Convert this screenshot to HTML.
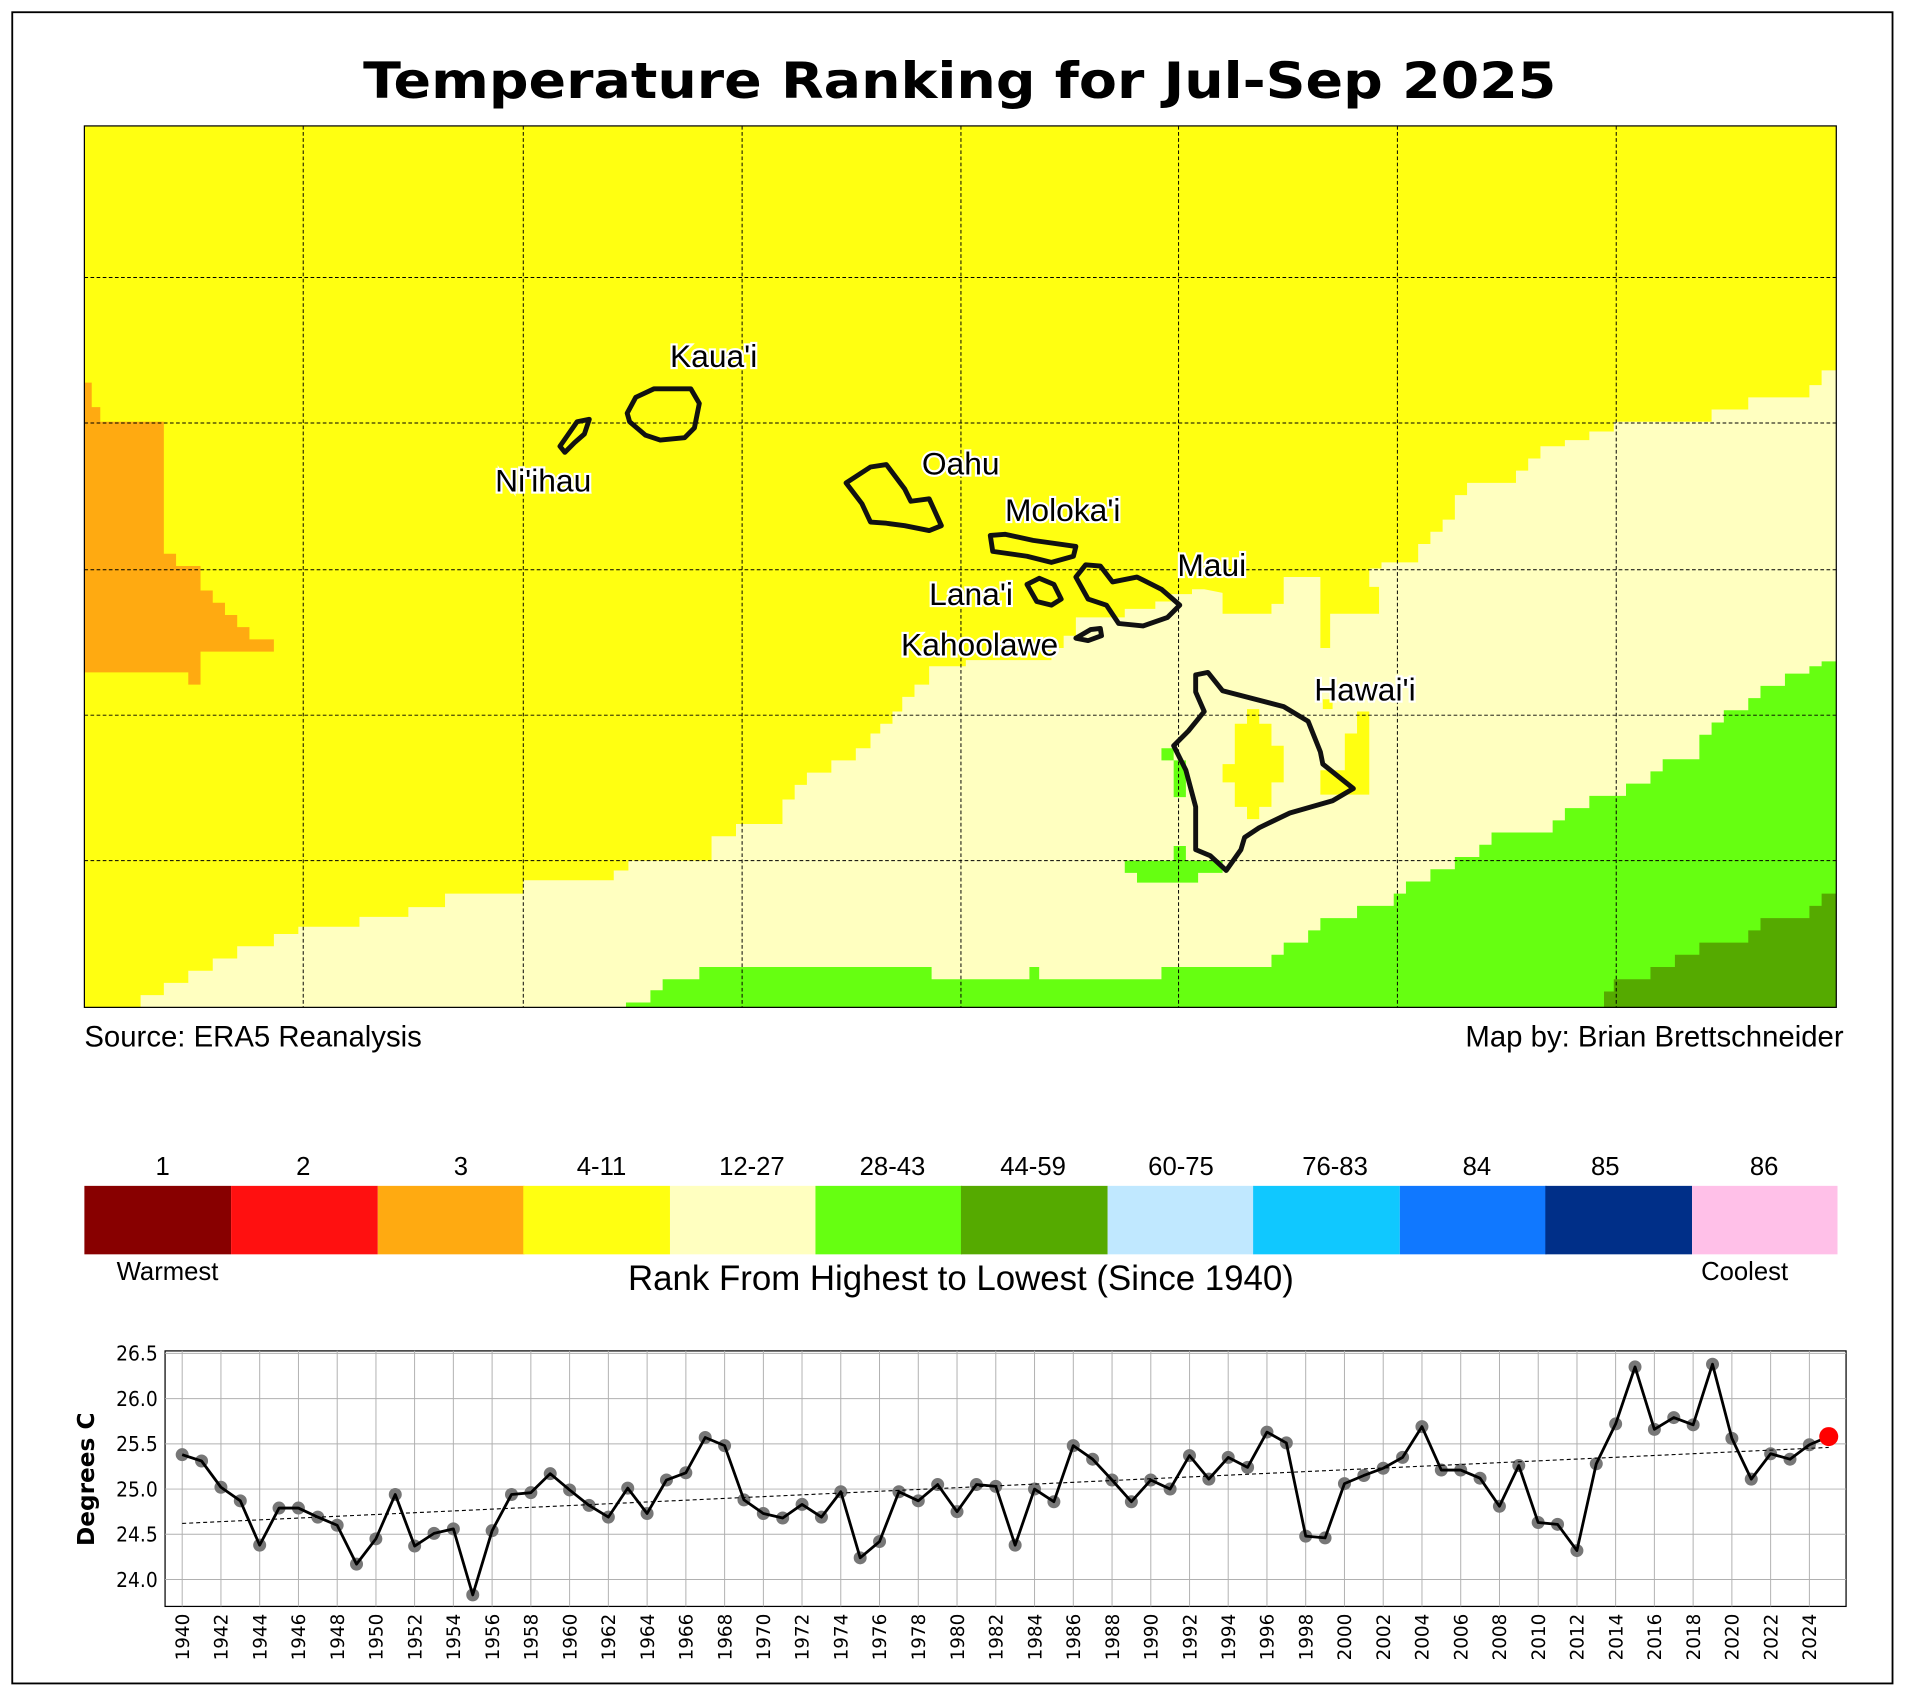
<!DOCTYPE html>
<html><head><meta charset="utf-8"><style>html,body{margin:0;padding:0;background:#fff}svg{display:block}</style></head>
<body>
<svg width="1917" height="1692" viewBox="0 0 1568 1384" xmlns="http://www.w3.org/2000/svg">
<rect x="0" y="0" width="1568" height="1384" fill="#fff"/>
<rect x="10" y="10" width="1538" height="1367" fill="none" stroke="#000" stroke-width="1.5"/>
<text x="785" y="80" text-anchor="middle" font-family="DejaVu Sans, sans-serif" font-weight="bold" font-size="41" textLength="976" lengthAdjust="spacingAndGlyphs">Temperature Ranking for Jul-Sep 2025</text>

<!-- MAP -->
<g>
<rect x="69" y="103" width="1433" height="721" fill="#ffff11"/>
<polygon fill="#ffaa11" points="69,313 75,313 75,333 82,333 82,345 134,345 134,453 144,453 144,463 164,463 164,483 174,483 174,493 184,493 184,503 194,503 194,513 204,513 204,523 224,523 224,533 164,533 164,560 154,560 154,550 69,550"/>
<polygon fill="#ffffc0" points="115,824 115,814 134,814 134,804 154,804 154,794 174,794 174,784 194,784 194,774 224,774 224,764 244,764 244,758 294,758 294,750 334,750 334,742 364,742 364,731 428,731 428,720 502,720 502,712 514,712 514,704 582,704 582,684 602,684 602,674 640,674 640,654 650,654 650,642 660,642 660,632 680,632 680,622 700,622 700,612 712,612 712,600 720,600 720,592 730,592 730,582 738,582 738,570 748,570 748,560 760,560 760,545 790,545 790,540 860,540 860,530 870,530 870,520 880,520 880,505 920,505 920,498 945,498 945,492 958,492 958,486 975,486 975,482 985,482 985,482 1000,485 1000,502 1040,502 1040,494 1050,494 1050,472 1080,472 1080,530 1088,530 1088,502 1128,502 1128,480 1120,480 1120,465 1130,465 1130,460 1160,460 1160,445 1170,445 1170,435 1180,435 1180,425 1190,425 1190,405 1200,405 1200,395 1240,395 1240,385 1250,385 1250,375 1260,375 1260,365 1280,365 1280,360 1300,360 1300,353 1320,353 1320,345 1400,345 1400,335 1430,335 1430,325 1480,325 1480,315 1490,315 1490,303 1502,303 1502,824"/>
<polygon fill="#ffff11" points="1010,592 1020,592 1020,580 1030,580 1030,592 1040,592 1040,610 1050,610 1050,640 1040,640 1040,660 1030,660 1030,670 1020,670 1020,660 1010,660 1010,640 1000,640 1000,625 1010,625"/>
<polygon fill="#ffff11" points="1110,582 1120,582 1120,650 1080,650 1080,630 1100,630 1100,600 1110,600"/>
<polygon fill="#ffff11" points="1082,572 1090,572 1090,580 1082,580"/>
<polygon fill="#66ff11" points="512,824 512,820 532,820 532,810 542,810 542,801 572,801 572,791 762,791 762,801 842,801 842,791 850,791 850,801 950,801 950,791 1040,791 1040,781 1050,781 1050,771 1070,771 1070,761 1080,761 1080,751 1110,751 1110,741 1140,741 1140,731 1150,731 1150,721 1170,721 1170,711 1190,711 1190,701 1210,701 1210,691 1220,691 1220,681 1270,681 1270,671 1280,671 1280,661 1300,661 1300,651 1330,651 1330,641 1350,641 1350,631 1360,631 1360,621 1390,621 1390,601 1400,601 1400,591 1410,591 1410,581 1430,581 1430,571 1440,571 1440,561 1460,561 1460,551 1480,551 1480,545 1490,545 1490,541 1502,541 1502,824"/>
<polygon fill="#55aa00" points="1312,824 1312,811 1320,811 1320,801 1350,801 1350,791 1370,791 1370,781 1390,781 1390,771 1430,771 1430,761 1440,761 1440,751 1480,751 1480,741 1490,741 1490,731 1502,731 1502,824"/>
<polygon fill="#66ff11" points="950,612 960,612 960,622 970,622 970,652 960,652 960,622 950,622"/>
<polygon fill="#66ff11" points="920,704 960,704 960,692 970,692 970,704 1000,704 1000,714 980,714 980,722 930,722 930,714 920,714"/>
<g stroke="#000" stroke-width="0.8" stroke-dasharray="3,2" fill="none">
<line x1="248" y1="103" x2="248" y2="824"/><line x1="428" y1="103" x2="428" y2="824"/><line x1="607" y1="103" x2="607" y2="824"/><line x1="786" y1="103" x2="786" y2="824"/><line x1="964" y1="103" x2="964" y2="824"/><line x1="1143" y1="103" x2="1143" y2="824"/><line x1="1322" y1="103" x2="1322" y2="824"/>
<line x1="69" y1="227" x2="1502" y2="227"/><line x1="69" y1="346" x2="1502" y2="346"/><line x1="69" y1="466" x2="1502" y2="466"/><line x1="69" y1="585" x2="1502" y2="585"/><line x1="69" y1="704" x2="1502" y2="704"/>
</g>
<g fill="none" stroke="#111" stroke-width="4" stroke-linejoin="round">
<polygon points="513,338 520,325 535,318 565,318 572,330 568,350 560,358 540,360 528,356 515,345"/>
<polygon points="458,365 465,355 472,345 482,343 478,355 470,362 462,370"/>
<polygon points="692,395 712,382 725,380 740,400 745,410 760,408 770,430 760,434 740,430 725,428 712,427 705,412"/>
<polygon points="810,438 822,437 845,442 880,447 878,455 860,460 840,455 812,451"/>
<polygon points="880,472 888,462 900,463 910,476 930,472 950,482 965,495 955,505 935,512 915,510 905,495 890,490"/>
<polygon points="840,478 850,473 862,478 868,490 860,495 848,492"/>
<polygon points="880,522 892,515 900,514 901,520 890,524"/>
<polygon points="978,552 988,550 1000,565 1050,578 1070,590 1080,615 1082,625 1107,645 1090,655 1055,665 1030,677 1018,685 1015,695 1003,712 990,700 978,695 978,660 970,630 960,610 972,598 985,582 978,566"/>
</g>
<g font-family="Liberation Sans, sans-serif" font-size="26" fill="#000" stroke="#fff" stroke-width="3.5" paint-order="stroke">
<text x="548" y="300">Kaua'i</text>
<text x="405" y="402">Ni'ihau</text>
<text x="754" y="388">Oahu</text>
<text x="822" y="426">Moloka'i</text>
<text x="963" y="471">Maui</text>
<text x="760" y="495">Lana'i</text>
<text x="737" y="536">Kahoolawe</text>
<text x="1075" y="573">Hawai'i</text>
</g>
<rect x="69" y="103" width="1433" height="721" fill="none" stroke="#000" stroke-width="1"/>
</g>
<g font-family="Liberation Sans, sans-serif" font-size="24" fill="#000">
<text x="69" y="856">Source: ERA5 Reanalysis</text>
<text x="1508" y="856" text-anchor="end">Map by: Brian Brettschneider</text>
</g>

<!-- COLORBAR -->
<g>
<rect x="69" y="970" width="120" height="56" fill="#880000"/>
<rect x="189" y="970" width="120" height="56" fill="#ff1010"/>
<rect x="309" y="970" width="120" height="56" fill="#ffaa11"/>
<rect x="428" y="970" width="120" height="56" fill="#ffff11"/>
<rect x="548" y="970" width="120" height="56" fill="#ffffc0"/>
<rect x="667" y="970" width="120" height="56" fill="#66ff11"/>
<rect x="786" y="970" width="120" height="56" fill="#55aa00"/>
<rect x="906" y="970" width="120" height="56" fill="#c0e8ff"/>
<rect x="1025" y="970" width="120" height="56" fill="#10c8ff"/>
<rect x="1145" y="970" width="120" height="56" fill="#1078ff"/>
<rect x="1264" y="970" width="120" height="56" fill="#002f88"/>
<rect x="1384" y="970" width="119" height="56" fill="#ffc0e8"/>
</g>
<g font-family="Liberation Sans, sans-serif" font-size="21" fill="#000" text-anchor="middle">
<text x="133" y="961">1</text><text x="248" y="961">2</text><text x="377" y="961">3</text><text x="492" y="961">4-11</text><text x="615" y="961">12-27</text><text x="730" y="961">28-43</text><text x="845" y="961">44-59</text><text x="966" y="961">60-75</text><text x="1092" y="961">76-83</text><text x="1208" y="961">84</text><text x="1313" y="961">85</text><text x="1443" y="961">86</text>
<text x="137" y="1047" font-size="21">Warmest</text>
<text x="1427" y="1047" font-size="21">Coolest</text>
<text x="786" y="1055" font-size="28.5">Rank From Highest to Lowest (Since 1940)</text>
</g>

<!-- LINE CHART -->
<g>
<rect x="135" y="1105" width="1375" height="209" fill="#fff" stroke="#000" stroke-width="1"/>
<g stroke="#b0b0b0" stroke-width="0.8">
<line x1="135" y1="1107" x2="1510" y2="1107"/><line x1="135" y1="1144" x2="1510" y2="1144"/><line x1="135" y1="1181" x2="1510" y2="1181"/><line x1="135" y1="1218" x2="1510" y2="1218"/><line x1="135" y1="1255" x2="1510" y2="1255"/><line x1="135" y1="1292" x2="1510" y2="1292"/>
</g>
<g stroke="#b0b0b0" stroke-width="0.8">
<line x1="149" y1="1105" x2="149" y2="1314"/><line x1="180.7" y1="1105" x2="180.7" y2="1314"/><line x1="212.4" y1="1105" x2="212.4" y2="1314"/><line x1="244.1" y1="1105" x2="244.1" y2="1314"/><line x1="275.8" y1="1105" x2="275.8" y2="1314"/><line x1="307.5" y1="1105" x2="307.5" y2="1314"/><line x1="339.1" y1="1105" x2="339.1" y2="1314"/><line x1="370.8" y1="1105" x2="370.8" y2="1314"/><line x1="402.5" y1="1105" x2="402.5" y2="1314"/><line x1="434.2" y1="1105" x2="434.2" y2="1314"/><line x1="465.9" y1="1105" x2="465.9" y2="1314"/><line x1="497.6" y1="1105" x2="497.6" y2="1314"/><line x1="529.3" y1="1105" x2="529.3" y2="1314"/><line x1="561" y1="1105" x2="561" y2="1314"/><line x1="592.7" y1="1105" x2="592.7" y2="1314"/><line x1="624.4" y1="1105" x2="624.4" y2="1314"/><line x1="656" y1="1105" x2="656" y2="1314"/><line x1="687.7" y1="1105" x2="687.7" y2="1314"/><line x1="719.4" y1="1105" x2="719.4" y2="1314"/><line x1="751.1" y1="1105" x2="751.1" y2="1314"/><line x1="782.8" y1="1105" x2="782.8" y2="1314"/><line x1="814.5" y1="1105" x2="814.5" y2="1314"/><line x1="846.2" y1="1105" x2="846.2" y2="1314"/><line x1="877.9" y1="1105" x2="877.9" y2="1314"/><line x1="909.6" y1="1105" x2="909.6" y2="1314"/><line x1="941.3" y1="1105" x2="941.3" y2="1314"/><line x1="973" y1="1105" x2="973" y2="1314"/><line x1="1004.6" y1="1105" x2="1004.6" y2="1314"/><line x1="1036.3" y1="1105" x2="1036.3" y2="1314"/><line x1="1068" y1="1105" x2="1068" y2="1314"/><line x1="1099.7" y1="1105" x2="1099.7" y2="1314"/><line x1="1131.4" y1="1105" x2="1131.4" y2="1314"/><line x1="1163.1" y1="1105" x2="1163.1" y2="1314"/><line x1="1194.8" y1="1105" x2="1194.8" y2="1314"/><line x1="1226.5" y1="1105" x2="1226.5" y2="1314"/><line x1="1258.2" y1="1105" x2="1258.2" y2="1314"/><line x1="1289.9" y1="1105" x2="1289.9" y2="1314"/><line x1="1321.5" y1="1105" x2="1321.5" y2="1314"/><line x1="1353.2" y1="1105" x2="1353.2" y2="1314"/><line x1="1384.9" y1="1105" x2="1384.9" y2="1314"/><line x1="1416.6" y1="1105" x2="1416.6" y2="1314"/><line x1="1448.3" y1="1105" x2="1448.3" y2="1314"/><line x1="1480" y1="1105" x2="1480" y2="1314"/>
</g>
<g transform="translate(149,1292) scale(15.845,-74)">
<path vector-effect="non-scaling-stroke" fill="none" stroke="#777" stroke-width="13" stroke-linecap="round" d="M0 1.38l0 0M1 1.31l0 0M2 1.02l0 0M3 .87l0 0M4 .38l0 0M5 .79l0 0M6 .79l0 0M7 .69l0 0M8 .6l0 0M9 .17l0 0M10 .45l0 0M11 .94l0 0M12 .37l0 0M13 .51l0 0M14 .56l0 0M15 -.17l0 0M16 .54l0 0M17 .94l0 0M18 .96l0 0M19 1.17l0 0M20 .99l0 0M21 .82l0 0M22 .69l0 0M23 1.01l0 0M24 .73l0 0M25 1.1l0 0M26 1.18l0 0M27 1.57l0 0M28 1.48l0 0M29 .88l0 0M30 .73l0 0M31 .68l0 0M32 .83l0 0M33 .69l0 0M34 .97l0 0M35 .24l0 0M36 .42l0 0M37 .97l0 0M38 .87l0 0M39 1.05l0 0M40 .75l0 0M41 1.05l0 0M42 1.03l0 0M43 .38l0 0M44 1l0 0M45 .86l0 0M46 1.48l0 0M47 1.33l0 0M48 1.1l0 0M49 .86l0 0M50 1.1l0 0M51 1l0 0M52 1.37l0 0M53 1.11l0 0M54 1.35l0 0M55 1.24l0 0M56 1.63l0 0M57 1.51l0 0M58 .48l0 0M59 .46l0 0M60 1.06l0 0M61 1.15l0 0M62 1.23l0 0M63 1.35l0 0M64 1.69l0 0M65 1.21l0 0M66 1.21l0 0M67 1.12l0 0M68 .81l0 0M69 1.26l0 0M70 .63l0 0M71 .61l0 0M72 .32l0 0M73 1.28l0 0M74 1.72l0 0M75 2.35l0 0M76 1.66l0 0M77 1.79l0 0M78 1.71l0 0M79 2.38l0 0M80 1.56l0 0M81 1.11l0 0M82 1.39l0 0M83 1.33l0 0M84 1.49l0 0"/>
<path vector-effect="non-scaling-stroke" fill="none" stroke="#000" stroke-width="1.1" stroke-dasharray="4,3" d="M0 .62L85 1.46"/>
<path vector-effect="non-scaling-stroke" fill="none" stroke="#000" stroke-width="2.8" stroke-linejoin="round" d="M0 1.38L1 1.31L2 1.02L3 .87L4 .38L5 .79L6 .79L7 .69L8 .6L9 .17L10 .45L11 .94L12 .37L13 .51L14 .56L15 -.17L16 .54L17 .94L18 .96L19 1.17L20 .99L21 .82L22 .69L23 1.01L24 .73L25 1.1L26 1.18L27 1.57L28 1.48L29 .88L30 .73L31 .68L32 .83L33 .69L34 .97L35 .24L36 .42L37 .97L38 .87L39 1.05L40 .75L41 1.05L42 1.03L43 .38L44 1L45 .86L46 1.48L47 1.33L48 1.1L49 .86L50 1.1L51 1L52 1.37L53 1.11L54 1.35L55 1.24L56 1.63L57 1.51L58 .48L59 .46L60 1.06L61 1.15L62 1.23L63 1.35L64 1.69L65 1.21L66 1.21L67 1.12L68 .81L69 1.26L70 .63L71 .61L72 .32L73 1.28L74 1.72L75 2.35L76 1.66L77 1.79L78 1.71L79 2.38L80 1.56L81 1.11L82 1.39L83 1.33L84 1.49L85 1.58"/>
<path vector-effect="non-scaling-stroke" fill="none" stroke="#ff0000" stroke-width="19" stroke-linecap="round" d="M85 1.58l0 0"/>
</g>
<g font-family="DejaVu Sans Condensed, DejaVu Sans, sans-serif" font-size="17" fill="#000" text-anchor="end">
<text x="129" y="1113">26.5</text><text x="129" y="1150">26.0</text><text x="129" y="1187">25.5</text><text x="129" y="1224">25.0</text><text x="129" y="1261">24.5</text><text x="129" y="1298">24.0</text>
</g>
<text transform="translate(77,1210) rotate(-90)" text-anchor="middle" font-family="DejaVu Sans, sans-serif" font-weight="bold" font-size="19">Degrees C</text>
<g font-family="DejaVu Sans, sans-serif" font-size="15" fill="#000" text-anchor="end">
<text transform="translate(154.5,1320) rotate(-90)">1940</text><text transform="translate(186.2,1320) rotate(-90)">1942</text><text transform="translate(217.9,1320) rotate(-90)">1944</text><text transform="translate(249.6,1320) rotate(-90)">1946</text><text transform="translate(281.3,1320) rotate(-90)">1948</text><text transform="translate(313,1320) rotate(-90)">1950</text><text transform="translate(344.6,1320) rotate(-90)">1952</text><text transform="translate(376.3,1320) rotate(-90)">1954</text><text transform="translate(408,1320) rotate(-90)">1956</text><text transform="translate(439.7,1320) rotate(-90)">1958</text><text transform="translate(471.4,1320) rotate(-90)">1960</text><text transform="translate(503.1,1320) rotate(-90)">1962</text><text transform="translate(534.8,1320) rotate(-90)">1964</text><text transform="translate(566.5,1320) rotate(-90)">1966</text><text transform="translate(598.2,1320) rotate(-90)">1968</text><text transform="translate(629.9,1320) rotate(-90)">1970</text><text transform="translate(661.5,1320) rotate(-90)">1972</text><text transform="translate(693.2,1320) rotate(-90)">1974</text><text transform="translate(724.9,1320) rotate(-90)">1976</text><text transform="translate(756.6,1320) rotate(-90)">1978</text><text transform="translate(788.3,1320) rotate(-90)">1980</text><text transform="translate(820,1320) rotate(-90)">1982</text><text transform="translate(851.7,1320) rotate(-90)">1984</text><text transform="translate(883.4,1320) rotate(-90)">1986</text><text transform="translate(915.1,1320) rotate(-90)">1988</text><text transform="translate(946.8,1320) rotate(-90)">1990</text><text transform="translate(978.5,1320) rotate(-90)">1992</text><text transform="translate(1010.1,1320) rotate(-90)">1994</text><text transform="translate(1041.8,1320) rotate(-90)">1996</text><text transform="translate(1073.5,1320) rotate(-90)">1998</text><text transform="translate(1105.2,1320) rotate(-90)">2000</text><text transform="translate(1136.9,1320) rotate(-90)">2002</text><text transform="translate(1168.6,1320) rotate(-90)">2004</text><text transform="translate(1200.3,1320) rotate(-90)">2006</text><text transform="translate(1232,1320) rotate(-90)">2008</text><text transform="translate(1263.7,1320) rotate(-90)">2010</text><text transform="translate(1295.4,1320) rotate(-90)">2012</text><text transform="translate(1327,1320) rotate(-90)">2014</text><text transform="translate(1358.7,1320) rotate(-90)">2016</text><text transform="translate(1390.4,1320) rotate(-90)">2018</text><text transform="translate(1422.1,1320) rotate(-90)">2020</text><text transform="translate(1453.8,1320) rotate(-90)">2022</text><text transform="translate(1485.5,1320) rotate(-90)">2024</text>
</g>
</g>
</svg>
</body></html>
